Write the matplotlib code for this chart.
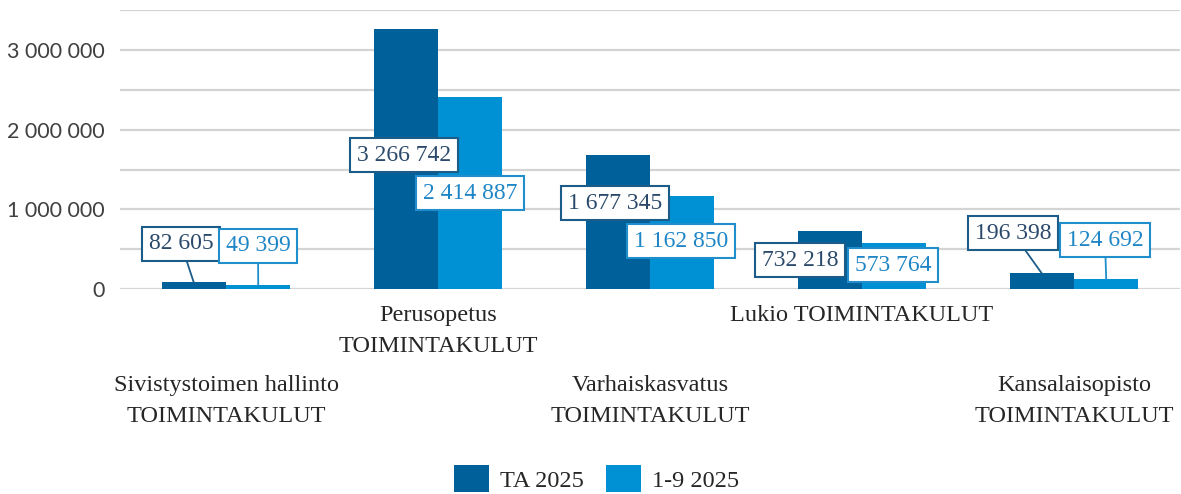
import matplotlib
matplotlib.use("Agg")
import matplotlib.pyplot as plt
import numpy as np

categories = ["Sivistystoimen hallinto\nTOIMINTAKULUT", "Perusopetus\nTOIMINTAKULUT",
              "Varhaiskasvatus\nTOIMINTAKULUT", "Lukio TOIMINTAKULUT",
              "Kansalaisopisto\nTOIMINTAKULUT"]
series_names = ["TA 2025", "1-9 2025"]
ta_2025 = [82605, 3266742, 1677345, 732218, 196398]
jan_sep_2025 = [49399, 2414887, 1162850, 573764, 124692]
yticks = [0, 500000, 1000000, 1500000, 2000000, 2500000, 3000000, 3500000]
ytick_labels = ["0", "", "1 000 000", "", "2 000 000", "", "3 000 000", ""]

# label placement (layout only): centers in data coords
lab_pos_ta = [(-0.212, 565000), (0.840, 1682000), (1.835, 1079000), (2.708, 364000), (3.712, 703000)]
lab_pos_js = [(0.151, 540000), (1.151, 1205000), (2.146, 602000), (3.146, 301000), (4.146, 615000)]
leader_ta = [True, False, False, False, True]
leader_js = [True, False, False, False, True]

dark = "#00609A"
light = "#0091D5"
dark_txt = "#2B4A6B"
light_txt = "#1F86C6"

def fmt(v):
    return f"{v:,}".replace(",", " ")

fig = plt.figure(figsize=(11.81, 4.94), dpi=100)
ax = fig.add_axes([120/1181, 205/494, 1060/1181, (494-205-10.2)/494])

x = np.arange(len(categories))
w = 0.30
off = 0.152
ax.bar(x - off, ta_2025, w, color=dark, zorder=2, label=series_names[0])
ax.bar(x + off, jan_sep_2025, w, color=light, zorder=2, label=series_names[1])

ax.set_xlim(-0.5, 4.5)
ax.set_ylim(0, 3500000)
ax.set_yticks(yticks)
ax.set_yticklabels(ytick_labels)
ax.yaxis.grid(True, color="#D4D4D4", lw=1.6, zorder=0)
ax.set_axisbelow(True)
for s in ax.spines.values():
    s.set_visible(False)
ax.tick_params(axis="y", length=0, pad=11, labelsize=15.5, labelcolor="#404040")
for t in ax.get_yticklabels():
    t.set_fontfamily("Lato")
ax.set_xticks([])

def add_labels(vals, poss, leaders, xoff, ec, tc):
    for i, (v, (lx, ly), ld) in enumerate(zip(vals, poss, leaders)):
        if ld:
            ax.annotate("", xy=(i + xoff, v), xytext=(lx, ly),
                        arrowprops=dict(arrowstyle="-", color=ec, lw=1.3,
                                        shrinkA=0, shrinkB=0), zorder=3)
        ax.text(lx, ly, fmt(v), ha="center", va="center", fontsize=17,
                family="Liberation Serif", color=tc, zorder=4,
                bbox=dict(boxstyle="square,pad=0.28", fc="white", ec=ec, lw=1.5))

add_labels(ta_2025, lab_pos_ta, leader_ta, -off, "#1B5C88", dark_txt)
add_labels(jan_sep_2025, lab_pos_js, leader_js, off, "#1F8ECB", light_txt)

# staggered category labels
row_offsets_px = [-86, -16, -86, -16, -86]
for i, (c, dy) in enumerate(zip(categories, row_offsets_px)):
    ax.annotate(c, xy=(i, 0), xycoords=("data", "axes fraction"),
                xytext=(0, dy * 0.72), textcoords="offset points",
                ha="center", va="top", fontsize=17.5, family="Liberation Serif",
                color="#262626", linespacing=1.62, annotation_clip=False)

leg = fig.legend(loc="lower center", bbox_to_anchor=(0.505, -0.04), ncol=2, frameon=False,
                 prop={"family": "Liberation Serif", "size": 17.5},
                 handlelength=1.45, handleheight=1.3, columnspacing=0.9, handletextpad=0.45)
for t in leg.get_texts():
    t.set_color("#262626")

fig.savefig("out.png", dpi=100)
